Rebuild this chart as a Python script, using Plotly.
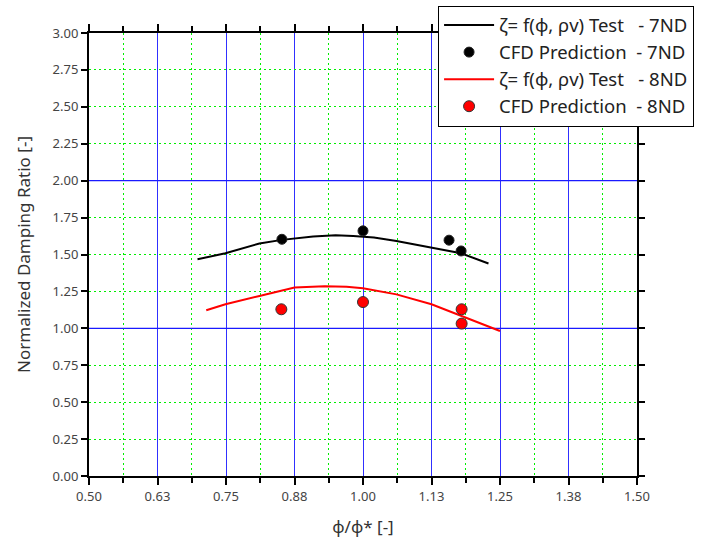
import plotly.graph_objects as go

# Data
fit7_x = [0.698, 0.749, 0.811, 0.852, 0.909, 0.950, 0.982, 1.020, 1.061, 1.125, 1.179, 1.229]
fit7_y = [1.468, 1.508, 1.575, 1.599, 1.622, 1.630, 1.626, 1.615, 1.592, 1.547, 1.508, 1.439]
cfd7_x = [0.852, 1.000, 1.157, 1.179]
cfd7_y = [1.603, 1.660, 1.597, 1.524]
fit8_x = [0.714, 0.749, 0.811, 0.875, 0.930, 0.970, 1.000, 1.061, 1.125, 1.180, 1.250]
fit8_y = [1.122, 1.163, 1.219, 1.276, 1.285, 1.282, 1.271, 1.230, 1.163, 1.083, 0.982]
cfd8_x = [0.851, 1.000, 1.180, 1.180]
cfd8_y = [1.129, 1.178, 1.129, 1.032]

x_tickvals = [0.5, 0.625, 0.75, 0.875, 1.0, 1.125, 1.25, 1.375, 1.5]
x_ticktext = ["0.50", "0.63", "0.75", "0.88", "1.00", "1.13", "1.25", "1.38", "1.50"]
y_tickvals = [i * 0.25 for i in range(13)]
y_ticktext = [f"{v:.2f}" for v in y_tickvals]
y_major_grid = [1.0, 2.0]

sp = "\u00a0"
names = [
    f"ζ= f(ϕ, ρv) Test{sp*3}- 7ND",
    f"CFD Prediction{sp*2}- 7ND",
    f"ζ= f(ϕ, ρv) Test{sp*3}- 8ND",
    f"CFD Prediction{sp*2}- 8ND",
]

fig = go.Figure()
fig.add_trace(go.Scatter(x=fit7_x, y=fit7_y, mode="lines", name=names[0],
                         line=dict(color="black", width=2)))
fig.add_trace(go.Scatter(x=cfd7_x, y=cfd7_y, mode="markers", name=names[1],
                         marker=dict(color="black", size=10, line=dict(color="#222", width=1))))
fig.add_trace(go.Scatter(x=fit8_x, y=fit8_y, mode="lines", name=names[2],
                         line=dict(color="#ff0000", width=2)))
fig.add_trace(go.Scatter(x=cfd8_x, y=cfd8_y, mode="markers", name=names[3],
                         marker=dict(color="#ff0000", size=11, line=dict(color="#333", width=1))))

for yv in y_major_grid:
    fig.add_shape(type="line", xref="x", yref="y", x0=0.5, x1=1.5, y0=yv, y1=yv,
                  line=dict(color="#1a1aff", width=1.2), layer="between")

font_family = "Noto Sans, Open Sans, sans-serif"
grid_green = "#00ee00"
grid_dash = "2px,3px"

fig.update_layout(
    width=706, height=544,
    margin=dict(l=89, r=69, t=33, b=68, autoexpand=False),
    plot_bgcolor="white", paper_bgcolor="white",
    font=dict(family=font_family, color="#333333", size=13),
    showlegend=True,
    legend=dict(x=0.637, y=1.062, xanchor="left", yanchor="top",
                bgcolor="white", bordercolor="black", borderwidth=1,
                font=dict(size=18.5, color="#222222", family=font_family),
                itemwidth=50, tracegroupgap=0),
    xaxis=dict(
        range=[0.5, 1.5], tickvals=x_tickvals, ticktext=x_ticktext,
        showgrid=True, gridcolor="#3030ff", gridwidth=1,
        showline=True, linecolor="black", linewidth=2, mirror="ticks",
        ticks="outside", ticklen=7, tickwidth=2, tickcolor="black",
        zeroline=False,
        minor=dict(dtick=0.0625, tick0=0.5, showgrid=True, gridcolor=grid_green,
                   griddash=grid_dash, gridwidth=1, ticks="outside", ticklen=5,
                   tickwidth=2, tickcolor="black"),
        title=dict(text="ϕ/ϕ* [-]", font=dict(size=17, color="#333333"), standoff=18),
        tickfont=dict(size=13, color="#444444"),
    ),
    yaxis=dict(
        range=[0, 3], tickvals=y_tickvals, ticktext=y_ticktext,
        showgrid=True, gridcolor=grid_green, griddash=grid_dash, gridwidth=1,
        showline=True, linecolor="black", linewidth=2, mirror="ticks",
        ticks="outside", ticklen=6, tickwidth=2, tickcolor="black",
        zeroline=False,
        title=dict(text="Normalized Damping Ratio [-]", font=dict(size=17, color="#333333"), standoff=18),
        tickfont=dict(size=13, color="#444444"),
    ),
)

fig.write_html("out.html")
